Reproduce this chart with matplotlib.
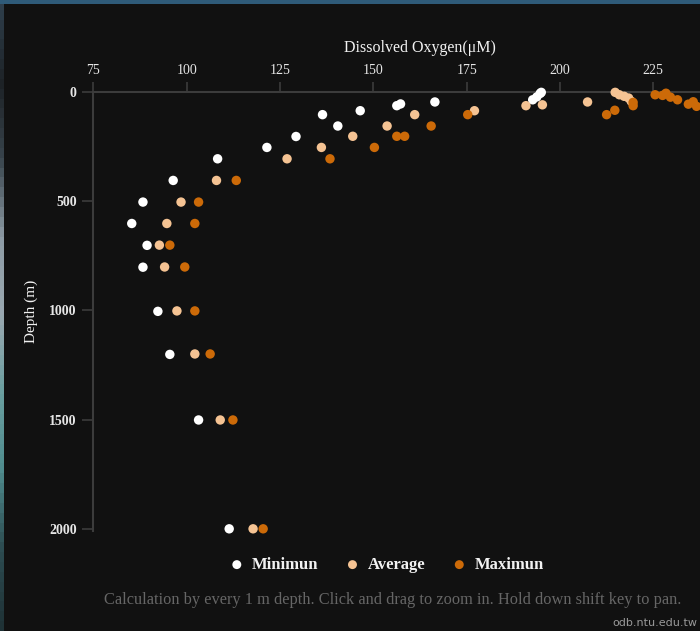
import numpy as np
import matplotlib
matplotlib.use("Agg")
import matplotlib.pyplot as plt
from matplotlib.colors import LinearSegmentedColormap

# dissolved oxygen (uM) against depth (m) for each statistic
min_depth = [3, 8, 24, 37, 47, 56, 64, 87, 105, 157, 205, 255, 307, 406,
             505, 603, 703, 803, 1005, 1202, 1502, 2000]
min_oxygen = [195.0, 194.7, 193.8, 192.7, 166.5, 157.3, 156.3, 146.5, 136.4,
              140.5, 129.3, 121.5, 108.3, 96.4, 88.3, 85.3, 89.4, 88.3, 92.3,
              95.5, 103.2, 111.4]

avg_depth = [3, 14, 21, 29, 44, 47, 60, 64, 87, 105, 157, 204, 255, 307, 406,
             505, 603, 702, 802, 1003, 1200, 1502, 2000]
avg_oxygen = [214.8, 215.9, 217.2, 218.4, 219.1, 207.4, 195.3, 190.9, 177.1,
              161.1, 153.7, 144.5, 136.1, 126.9, 108.0, 98.5, 94.7, 92.7, 94.1,
              97.4, 102.2, 109.0, 117.8]

max_depth = [7, 14, 17, 25, 37, 46, 57, 67, 49, 64, 85, 105, 105, 157, 204,
             204, 255, 307, 406, 505, 603, 702, 802, 1003, 1200, 1502, 2000]
max_oxygen = [228.4, 225.5, 227.5, 229.6, 231.5, 235.7, 234.4, 236.6, 219.6,
              219.6, 214.7, 212.5, 175.3, 165.5, 156.3, 158.4, 150.3, 138.4,
              113.3, 103.2, 102.2, 95.5, 99.5, 102.2, 106.3, 112.4, 120.5]

series_names = ["Minimun", "Average", "Maximun"]
series_colors = ["#ffffff", "#f5c393", "#cc6a08"]

x_ticks = [75, 100, 125, 150, 175, 200, 225]
y_ticks = [0, 500, 1000, 1500, 2000]

BG = "#111111"
LINE = "#3c3c3c"
SERIF = ["Liberation Serif", "DejaVu Serif"]

plt.rcParams["font.family"] = SERIF

W, H = 700, 631
fig = plt.figure(figsize=(W / 100, H / 100), dpi=100, facecolor=BG)

# thin bits of page background at the left and top edges
strip = fig.add_axes([0, 0, 4 / W, 1])
strip_cmap = LinearSegmentedColormap.from_list(
    "strip", ["#2f3f4c", "#1d2226", "#3a464e", "#8e9ca6", "#9aa9b1",
              "#6a9fa0", "#4f8c8e", "#2d4d52", "#1f3236"])
strip.imshow(np.linspace(0, 1, 64).reshape(-1, 1), aspect="auto",
             cmap=strip_cmap, extent=[0, 1, 0, 1], origin="upper")
strip.set_axis_off()
top = fig.add_axes([0, 1 - 4 / H, 1, 4 / H])
top.set_facecolor("#2f5b79")
top.set_xticks([])
top.set_yticks([])
for s in top.spines.values():
    s.set_visible(False)

# plot area runs on past the right edge of the canvas (x up to 250)
left, right = 93.3, 746.6
top_px, bottom_px = 91.7, 531.0
ax = fig.add_axes([left / W, 1 - bottom_px / H, (right - left) / W,
                   (bottom_px - top_px) / H])
ax.set_facecolor(BG)

for depth, oxy, name, color in zip([min_depth, avg_depth, max_depth],
                                   [min_oxygen, avg_oxygen, max_oxygen],
                                   series_names, series_colors):
    ax.scatter(oxy, depth, s=46, color=color, edgecolors="none", label=name,
               zorder=3, clip_on=False)

ax.set_xlim(75, 250)
ax.set_ylim(2010, 0)
ax.set_xticks(x_ticks)
ax.set_yticks(y_ticks)
ax.xaxis.tick_top()
ax.tick_params(axis="x", direction="out", length=7.5, width=1.2, color=LINE,
               pad=3, labelsize=10, labelcolor="#e6e6e6")
ax.tick_params(axis="y", direction="out", length=8, width=1.2, color=LINE,
               pad=4, labelsize=10, labelcolor="#e6e6e6")
for lbl in ax.get_yticklabels():
    lbl.set_fontweight("bold")

for side in ["bottom", "right"]:
    ax.spines[side].set_visible(False)
for side in ["top", "left"]:
    ax.spines[side].set_color(LINE)
    ax.spines[side].set_linewidth(1.5)

fig.text((left + right) / 2 / W, 1 - 48 / H, "Dissolved Oxygen(μM)",
         ha="center", va="center", fontsize=11.5, color="#f2f2f2")
fig.text(31 / W, 1 - 311 / H, "Depth (m)", rotation=90, ha="center",
         va="center", fontsize=11, color="#f2f2f2")

leg = fig.legend(loc="center", bbox_to_anchor=(386 / W, 1 - 565 / H), ncol=3,
                 frameon=False, handletextpad=0.4, columnspacing=1.55,
                 handlelength=1.0, markerscale=0.95,
                 prop={"family": SERIF, "weight": "bold", "size": 12})
for t in leg.get_texts():
    t.set_color("#f2f2f2")

fig.text(393 / W, 1 - 600 / H,
         "Calculation by every 1 m depth. Click and drag to zoom in. "
         "Hold down shift key to pan.",
         ha="center", va="center", fontsize=11.8, color="#666666")
fig.text(697 / W, 1 - 623 / H, "odb.ntu.edu.tw", ha="right", va="center",
         fontsize=8, color="#9a9a9a", family="DejaVu Sans")

fig.savefig("out.png", dpi=100, facecolor=BG)
